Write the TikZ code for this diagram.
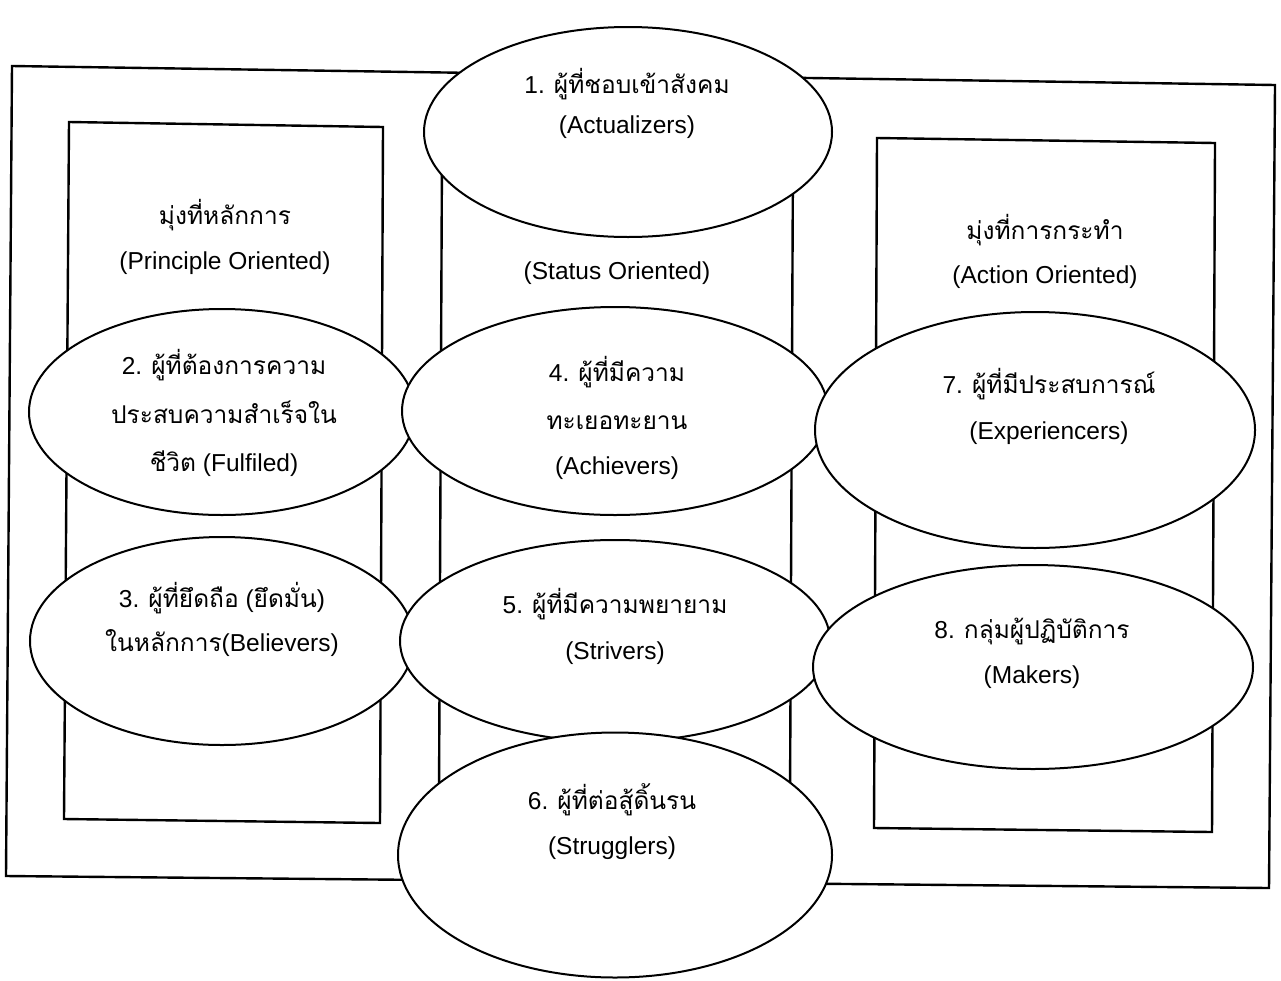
\documentclass[tikz,border=0pt]{standalone}
\usepackage{fontspec}
\setmainfont{Liberation Sans}
\newfontfamily\thaif[Script=Thai]{Loma}
\usetikzlibrary{shapes.geometric}
\tikzset{
  frame/.style={draw=black, line width=2.4pt, line join=miter},
  oval/.style={ellipse, draw=black, fill=white, line width=2pt, inner sep=0pt},
  txt/.style={anchor=base, inner sep=0pt, font=\fontsize{24.5}{30}\selectfont}
}
\begin{document}
\begin{tikzpicture}[x=1pt, y=-1pt]
\useasboundingbox (0,0) rectangle (1281,980);
% frames
\draw[frame] (12,66) -- (1275,85) -- (1269,888) -- (6,876) -- cycle;
\draw[frame] (69,122) -- (383,127) -- (380,823) -- (64,819) -- cycle;
\draw[frame] (442,150) -- (793,152) -- (790,800) -- (439,798) -- cycle;
\draw[frame] (877,138) -- (1215,143) -- (1212,832) -- (874,828) -- cycle;
% column headings
\node[txt] (h1a) at (225,224) {\thaif มุ่งที่หลักการ};
\node[txt] (h1b) at (225,269) {(Principle Oriented)};
\node[txt] (h2b) at (617,279) {(Status Oriented)};
\node[txt] (h3a) at (1045,239) {\thaif มุ่งที่การกระทำ};
\node[txt] (h3b) at (1045,283) {(Action Oriented)};
% ellipses
\node[oval, minimum width=386pt, minimum height=206pt] (e2) at (222,412) {};
\node[txt] (t2a) at (224,374) {2. {\thaif ผู้ที่ต้องการความ}};
\node[txt] (t2b) at (224,423) {\thaif ประสบความสำเร็จใน};
\node[txt] (t2c) at (224,471) {{\thaif ชีวิต} (Fulfiled)};

\node[oval, minimum width=384pt, minimum height=208pt] (e3) at (222,641) {};
\node[txt] (t3a) at (222,607) {3. {\thaif ผู้ที่ยึดถือ} ({\thaif ยึดมั่น})};
\node[txt] (t3b) at (222,651) {{\thaif ในหลักการ}(Believers)};

\node[oval, minimum width=426pt, minimum height=208pt] (e4) at (615,411) {};
\node[txt] (t4a) at (617,381) {4. {\thaif ผู้ที่มีความ}};
\node[txt] (t4b) at (617,429) {\thaif ทะเยอทะยาน};
\node[txt] (t4c) at (617,474) {(Achievers)};

\node[oval, minimum width=430pt, minimum height=202pt] (e5) at (615,641) {};
\node[txt] (t5a) at (615,613) {5. {\thaif ผู้ที่มีความพยายาม}};
\node[txt] (t5b) at (615,659) {(Strivers)};

\node[oval, minimum width=440pt, minimum height=236pt] (e7) at (1035,430) {};
\node[txt] (t7a) at (1049,393) {7. {\thaif ผู้ที่มีประสบการณ์}};
\node[txt] (t7b) at (1049,439) {(Experiencers)};

\node[oval, minimum width=440pt, minimum height=204pt] (e8) at (1033,667) {};
\node[txt] (t8a) at (1032,638) {8. {\thaif กลุ่มผู้ปฏิบัติการ}};
\node[txt] (t8b) at (1032,683) {(Makers)};

\node[oval, minimum width=408pt, minimum height=210pt] (e1) at (628,132) {};
\node[txt] (t1a) at (627,93) {1. {\thaif ผู้ที่ชอบเข้าสังคม}};
\node[txt] (t1b) at (627,133) {(Actualizers)};

\node[oval, minimum width=434pt, minimum height=245pt] (e6) at (615,855) {};
\node[txt] (t6a) at (612,809) {6. {\thaif ผู้ที่ต่อสู้ดิ้นรน}};
\node[txt] (t6b) at (612,854) {(Strugglers)};
\end{tikzpicture}
\end{document}
